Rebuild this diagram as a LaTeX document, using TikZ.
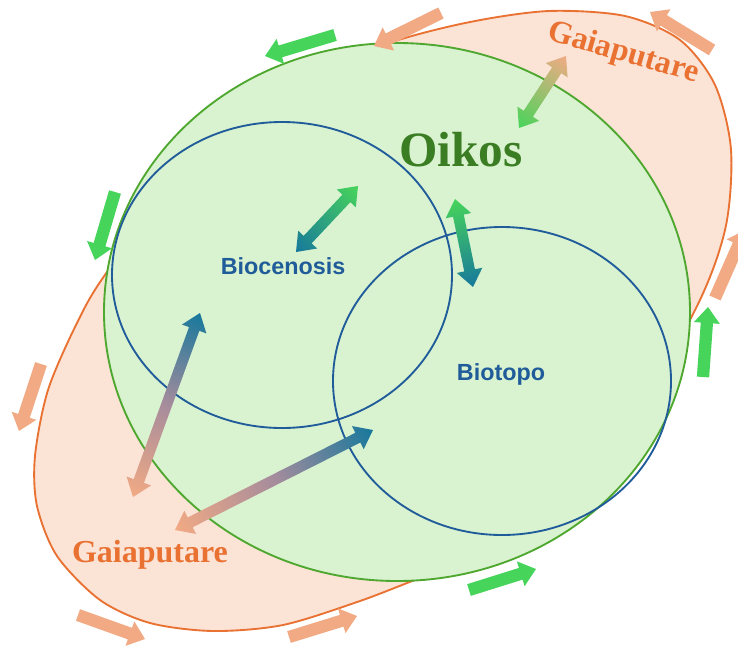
\documentclass[tikz,border=0pt]{standalone}
\usepackage{fontspec}
\setmainfont{Liberation Serif}
\newfontfamily\habitatfont{Liberation Sans}
\usepackage{tikz}

\definecolor{gaiaorange}{HTML}{E97132}
\definecolor{gaiafill}{HTML}{FBE3D6}
\definecolor{oikosfill}{HTML}{D9F2D0}
\definecolor{oikosline}{HTML}{4EA72E}
\definecolor{oikostext}{HTML}{3B7D23}
\definecolor{bioblue}{HTML}{1F5C99}
\definecolor{flowgreen}{HTML}{47D45A}
\definecolor{flowsalmon}{HTML}{F2AA84}
\definecolor{flowteal}{HTML}{17789C}
\definecolor{flowmauve}{HTML}{A68C9C}

\tikzset{
  gaia/.style={font=\bfseries\fontsize{24}{26}\selectfont, text=gaiaorange, inner sep=0pt},
  habitat/.style={font=\habitatfont\bfseries\fontsize{17.5}{19}\selectfont, text=bioblue, inner sep=0pt},
  rim/.style={line width=1.4pt}
}

% where an arrow starts and how it is turned
\newcommand\flowsetup[2]{%
  \pgfpointanchor{#1}{center}\pgfgetlastxy{\fax}{\fay}%
  \pgfpointdiff{\pgfpointanchor{#1}{center}}{\pgfpointanchor{#2}{center}}%
  \pgfgetlastxy{\fdx}{\fdy}%
  \pgfmathsetmacro\fang{atan2(\fdy,\fdx)}%
  \pgfmathsetmacro\flen{veclen(\fdx,\fdy)}}

% arrow with one head: from, to, colour
\newcommand\oneway[3]{%
  \flowsetup{#1}{#2}%
  \begin{scope}[transform canvas={shift={(\fax,\fay)},rotate=\fang}]
    \fill[#3] (0pt,-4.6pt) -- ({\flen pt-12pt},-4.6pt) -- ({\flen pt-12pt},-9.75pt)
      -- (\flen pt,0pt) -- ({\flen pt-12pt},9.75pt) -- ({\flen pt-12pt},4.6pt)
      -- (0pt,4.6pt) -- cycle;
  \end{scope}}

% arrow with two heads: [extra shading], from, to, colour at from, colour at to
\newcommand\twoway[5][]{%
  \flowsetup{#2}{#3}%
  \begin{scope}[transform canvas={shift={(\fax,\fay)},rotate=\fang}]
    \shade[left color=#4,right color=#5,#1] (0pt,0pt) -- (12.75pt,9.75pt) -- (12.75pt,4.1pt)
      -- ({\flen pt-12.75pt},4.1pt) -- ({\flen pt-12.75pt},9.75pt) -- (\flen pt,0pt)
      -- ({\flen pt-12.75pt},-9.75pt) -- ({\flen pt-12.75pt},-4.1pt)
      -- (12.75pt,-4.1pt) -- (12.75pt,-9.75pt) -- cycle;
  \end{scope}}

\begin{document}
\begin{tikzpicture}[x=0.75pt,y=-0.75pt]
\useasboundingbox (0,0) rectangle (738,646);

% outer shell
\filldraw[fill=gaiafill,draw=gaiaorange,rim] plot[smooth cycle] coordinates {
  (389,43) (470,22) (549,11) (625,16) (680,40) (715,85) (731,150) (725,230)
  (692,316) (600,470) (470,560) (420,578) (360,601) (283,625) (213,631)
  (150,623) (100,600) (57,556) (37,506) (35,456) (48,390) (77,323) (107,272)
  (200,150) (300,80)};

% the house and its two parts
\filldraw[fill=oikosfill,draw=oikosline,rim] (397,312) ellipse (293 and 269);
\draw[bioblue,rim] (282,275) ellipse (170 and 153);
\draw[bioblue,rim] (502,381) ellipse (169 and 154);

\node[font=\bfseries\fontsize{37}{40}\selectfont, text=oikostext, inner sep=0pt] (oikos) at (461,150) {Oikos};
\node[gaia, anchor=base, rotate=-16] (gaia-up) at (621,61) {Gaiaputare};
\node[gaia, anchor=base] (gaia-low) at (150,562) {Gaiaputare};
\node[habitat, anchor=base] (bioc) at (283,274) {Biocenosis};
\node[habitat, anchor=base] (biot) at (501,380) {Biotopo};

% ends of the arrows
\coordinate (g1a) at (335,35);  \coordinate (g1b) at (265,56);
\coordinate (g2a) at (115,192); \coordinate (g2b) at (95,260);
\coordinate (g3a) at (703,377); \coordinate (g3b) at (708,307);
\coordinate (g4a) at (469,590); \coordinate (g4b) at (536,569);
\coordinate (s1a) at (441,13);  \coordinate (s1b) at (374,46);
\coordinate (s2a) at (712,50);  \coordinate (s2b) at (650,12);
\coordinate (s3a) at (715,298); \coordinate (s3b) at (745,230);
\coordinate (s4a) at (41,364);  \coordinate (s4b) at (19,431);
\coordinate (s5a) at (78,615);  \coordinate (s5b) at (145,639);
\coordinate (s6a) at (289,637); \coordinate (s6b) at (357,616);

\coordinate (d1a) at (296,252); \coordinate (d1b) at (358,186);
\coordinate (d2a) at (455,199); \coordinate (d2b) at (473,287);
\coordinate (d3a) at (519,128); \coordinate (d3b) at (566,56);
\coordinate (d4a) at (133,497); \coordinate (d4b) at (200,313);
\coordinate (d5a) at (175,530); \coordinate (d5b) at (373,430);

% circulation round the shells
\oneway{g1a}{g1b}{flowgreen}
\oneway{g2a}{g2b}{flowgreen}
\oneway{g3a}{g3b}{flowgreen}
\oneway{g4a}{g4b}{flowgreen}
\oneway{s1a}{s1b}{flowsalmon}
\oneway{s2a}{s2b}{flowsalmon}
\oneway{s3a}{s3b}{flowsalmon}
\oneway{s4a}{s4b}{flowsalmon}
\oneway{s5a}{s5b}{flowsalmon}
\oneway{s6a}{s6b}{flowsalmon}

% exchanges
\twoway{d1a}{d1b}{flowteal}{flowgreen}
\twoway{d2a}{d2b}{flowgreen}{flowteal}
\twoway{d3a}{d3b}{flowgreen}{flowsalmon}
\twoway[middle color=flowmauve]{d4a}{d4b}{flowsalmon}{flowteal}
\twoway[middle color=flowmauve]{d5a}{d5b}{flowsalmon}{flowteal}
\end{tikzpicture}
\end{document}
